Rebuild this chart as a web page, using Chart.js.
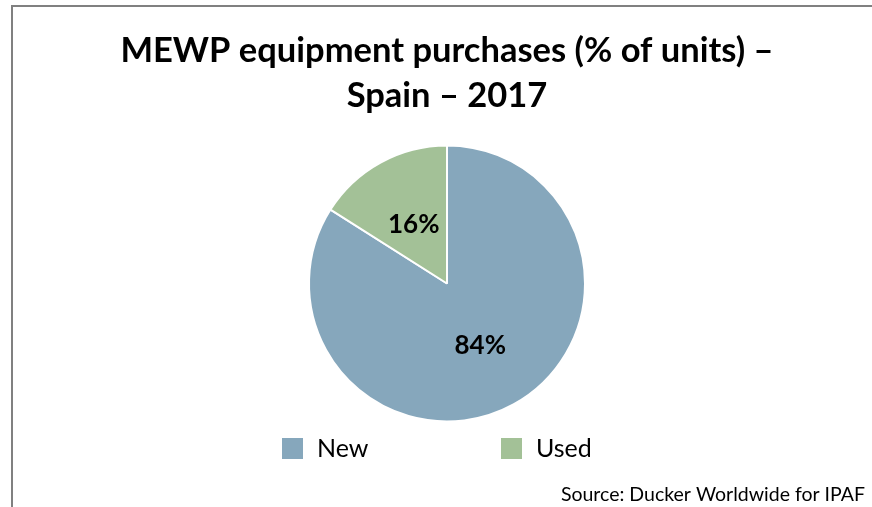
<!DOCTYPE html>
<html>
<head>
<meta charset="utf-8">
<script src="https://cdn.jsdelivr.net/npm/chart.js@4.4.1/dist/chart.umd.min.js"></script>
<style>
  html, body { margin: 0; padding: 0; background: #fff; }
  #wrap { width: 872px; height: 507px; position: relative; }
</style>
</head>
<body>
<div id="wrap"><canvas id="pie-chart" width="872" height="507"></canvas></div>
<script>
// Chart data
const categories = ['New', 'Used'];
const shares = [84, 16];
const sliceColors = ['#86A7BC', '#A3C197'];
const titleLines = ['MEWP equipment purchases (% of units) \u2013', 'Spain \u2013 2017'];
const sourceNote = 'Source: Ducker Worldwide for IPAF';

const pieCanvas = document.querySelector('#pie-chart');

// frame round the chart, like the excel chart border
const framePlugin = {
    id: 'frame',
    beforeDraw(chart) {
        const ctx = chart.ctx;
        ctx.save();
        ctx.fillStyle = '#fff';
        ctx.fillRect(0, 0, chart.width, chart.height);
        ctx.strokeStyle = '#808080';
        ctx.lineWidth = 2;
        ctx.strokeRect(12, 6, chart.width + 20, chart.height + 20);
        ctx.restore();
    }
};

// percentage labels in the middle of each slice
const sliceLabels = {
    id: 'sliceLabels',
    afterDatasetsDraw(chart) {
        const ctx = chart.ctx;
        const meta = chart.getDatasetMeta(0);
        ctx.save();
        ctx.font = 'bold 26px Lato';
        ctx.fillStyle = '#000';
        ctx.textAlign = 'center';
        ctx.textBaseline = 'middle';
        meta.data.forEach((arc, i) => {
            const pos = arc.tooltipPosition();
            ctx.fillText(chart.data.datasets[0].data[i] + '%', pos.x, pos.y + 2);
        });
        ctx.restore();
    }
};

// legend row and source note at the bottom
const bottomLegend = {
    id: 'bottomLegend',
    afterDraw(chart) {
        const ctx = chart.ctx;
        const colors = chart.data.datasets[0].backgroundColor;
        const startX = [282, 501];
        ctx.save();
        ctx.font = '25px Lato';
        ctx.textBaseline = 'middle';
        ctx.fillStyle = '#000';
        chart.data.labels.forEach((label, i) => {
            ctx.fillStyle = colors[i];
            ctx.fillRect(startX[i], 438, 21, 21);
            ctx.fillStyle = '#000';
            ctx.fillText(label, startX[i] + 35, 449);
        });
        ctx.font = '19.5px Lato';
        ctx.textAlign = 'right';
        ctx.textBaseline = 'alphabetic';
        ctx.fillText(sourceNote, 865, 501);
        ctx.restore();
    }
};

new Chart(pieCanvas, {
    type: 'pie',
    data: {
        labels: categories,
        datasets: [{
            data: shares,
            backgroundColor: sliceColors,
            borderColor: '#fff',
            borderWidth: 2
        }]
    },
    options: {
        responsive: false,
        animation: false,
        radius: 138,
        layout: {
            padding: { left: 22, right: 0, top: 0, bottom: 58 }
        },
        plugins: {
            legend: { display: false },
            tooltip: { enabled: false },
            title: {
                display: true,
                text: titleLines,
                color: '#000',
                font: { family: 'Lato', size: 34.5, weight: 'bold', lineHeight: 45 / 34.5 },
                padding: { top: 28, bottom: 0 }
            }
        }
    },
    plugins: [framePlugin, sliceLabels, bottomLegend]
});
</script>
</body>
</html>
